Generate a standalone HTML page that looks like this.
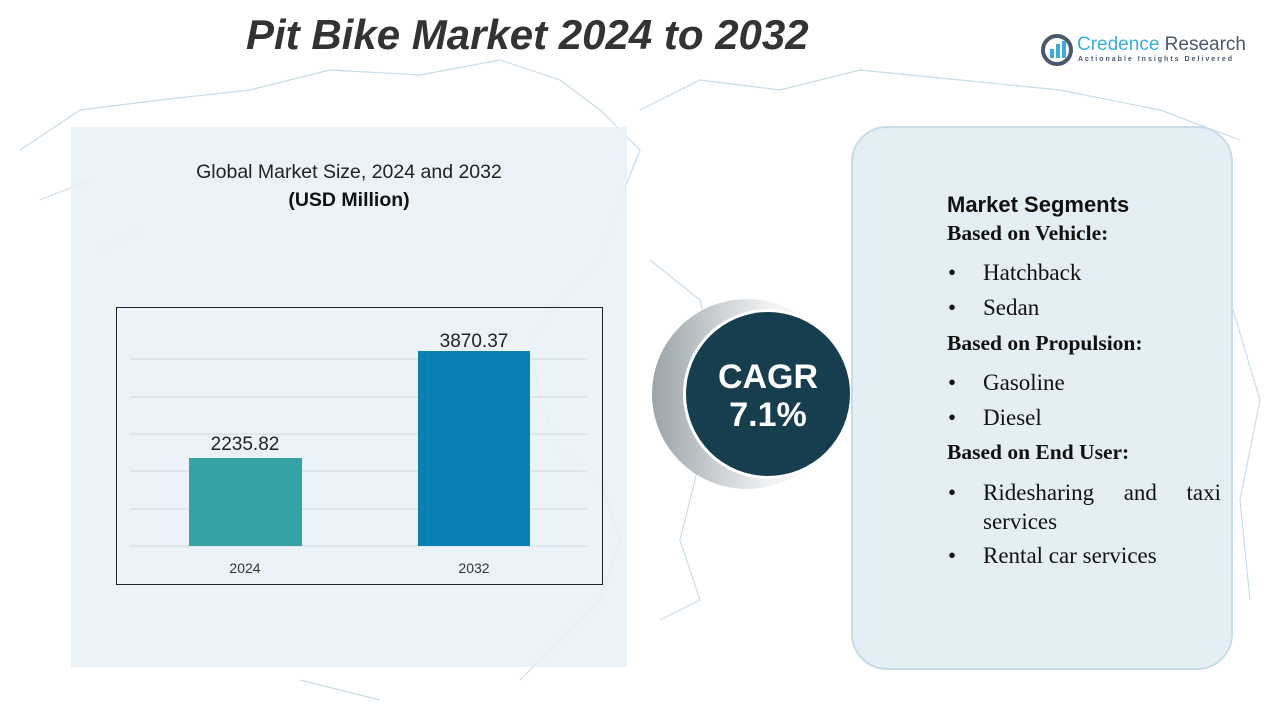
<!DOCTYPE html>
<html><head><meta charset="utf-8"><style>
body{margin:0;width:1280px;height:720px;position:relative;background:#fff;font-family:"Liberation Sans",sans-serif;overflow:hidden}
.a{position:absolute}
.seg{font-family:"Liberation Serif",serif;font-size:23px;color:#111;white-space:nowrap}
.hd{font-family:"Liberation Serif",serif;font-size:21.5px;font-weight:bold;color:#111;white-space:nowrap}
</style></head><body>
<svg class="a" style="left:0;top:0" width="1280" height="720">
<g fill="none" stroke="#c9dde6" stroke-width="1.2">
<path d="M20 150 L80 110 L160 100 L250 90 L330 70 L420 75 L500 60 L560 80 L600 110 L640 150 L620 200 L600 260 L560 300 L530 340 L540 400 L560 450 L600 480 L620 540 L600 600 L560 640 L520 680"/>
<path d="M640 110 L700 80 L780 90 L860 70 L960 80 L1060 90 L1160 110 L1240 140"/>
<path d="M650 260 L700 300 L720 380 L700 460 L680 540 L700 600 L660 620"/>
<path d="M1230 300 L1260 400 L1240 500 L1250 600"/>
<path d="M40 200 L90 180 M100 250 L140 230 M300 680 L380 700"/>
</g>
</svg>
<div class="a" style="top:127px;left:71px;width:556px;height:540px;background:#e9f1f7;opacity:.85"></div>
<div class="a" style="left:246px;top:11px;font-size:42px;font-weight:bold;font-style:italic;color:#333">Pit Bike Market 2024 to 2032</div>
<svg class="a" style="left:1040px;top:33px" width="34" height="34"><circle cx="17" cy="17" r="14" fill="none" stroke="#4a5a6a" stroke-width="4"/><rect x="10" y="16" width="4" height="9" fill="#3aaed8"/><rect x="16" y="11" width="4" height="14" fill="#3aaed8"/><rect x="22" y="8" width="4" height="17" fill="#3aaed8"/></svg>
<div class="a" style="left:1077px;top:34px;font-size:19px;color:#3aaed8">Credence <span style="color:#4a5a6a">Research</span></div>
<div class="a" style="left:1078px;top:56px;font-size:7px;letter-spacing:2px;color:#4a5a6a;font-weight:bold">Actionable Insights Delivered</div>
<div class="a" style="left:71px;width:556px;top:161px;text-align:center;font-size:19.5px;color:#222">Global Market Size, 2024 and 2032</div>
<div class="a" style="left:71px;width:556px;top:189px;text-align:center;font-size:19.5px;font-weight:bold;color:#111">(USD Million)</div>
<div class="a" style="left:116px;top:307px;width:485px;height:276px;border:1px solid #222"></div>
<svg class="a" style="left:117px;top:308px" width="485" height="276">
<g stroke="#d0d8dc" stroke-width="1"><line x1="13" x2="470" y1="51" y2="51"/><line x1="13" x2="470" y1="89" y2="89"/><line x1="13" x2="470" y1="126" y2="126"/><line x1="13" x2="470" y1="163" y2="163"/><line x1="13" x2="470" y1="201" y2="201"/><line x1="13" x2="470" y1="238" y2="238"/></g>
<rect x="72" y="150" width="113" height="88" fill="#35a3a3"/>
<rect x="301" y="43" width="112" height="195" fill="#0a80b4"/>
<text x="128" y="142" text-anchor="middle" font-size="19" fill="#222">2235.82</text>
<text x="357" y="39" text-anchor="middle" font-size="19" fill="#222">3870.37</text>
<text x="128" y="265" text-anchor="middle" font-size="14" fill="#333">2024</text>
<text x="357" y="265" text-anchor="middle" font-size="14" fill="#333">2032</text>
</svg>
<svg class="a" style="left:640px;top:290px" width="230" height="210">
<defs><linearGradient id="g" x1="0" x2="1"><stop offset="0" stop-color="#9aa4aa"/><stop offset="0.6" stop-color="#eef0f1"/><stop offset="1" stop-color="#fff"/></linearGradient></defs>
<circle cx="107" cy="104" r="95" fill="url(#g)"/>
<circle cx="128" cy="104" r="85" fill="#fff"/>
<circle cx="128" cy="104" r="82" fill="#173e4e"/>
<text x="128" y="98" text-anchor="middle" font-size="34" font-weight="bold" fill="#fff">CAGR</text>
<text x="128" y="136" text-anchor="middle" font-size="34" font-weight="bold" fill="#fff">7.1%</text>
</svg>
<div class="a" style="left:851px;top:126px;width:378px;height:540px;border:2px solid #c6dde8;border-radius:36px;background:#e3eef5"></div>
<div class="a" style="left:947px;top:192px;font-size:22px;font-weight:bold;color:#111">Market Segments</div>
<div class="a hd" style="left:947px;top:221px">Based on Vehicle:</div>
<div class="a seg" style="left:948px;top:260px">•</div><div class="a seg" style="left:983px;top:260px">Hatchback</div>
<div class="a seg" style="left:948px;top:295px">•</div><div class="a seg" style="left:983px;top:295px">Sedan</div>
<div class="a hd" style="left:947px;top:331px">Based on Propulsion:</div>
<div class="a seg" style="left:948px;top:370px">•</div><div class="a seg" style="left:983px;top:370px">Gasoline</div>
<div class="a seg" style="left:948px;top:405px">•</div><div class="a seg" style="left:983px;top:405px">Diesel</div>
<div class="a hd" style="left:947px;top:440px">Based on End User:</div>
<div class="a seg" style="left:948px;top:480px">•</div>
<div class="a seg" style="left:983px;top:480px;width:238px;text-align:justify;text-align-last:justify">Ridesharing and taxi</div>
<div class="a seg" style="left:983px;top:509px">services</div>
<div class="a seg" style="left:948px;top:543px">•</div><div class="a seg" style="left:983px;top:543px">Rental car services</div>
</body></html>
